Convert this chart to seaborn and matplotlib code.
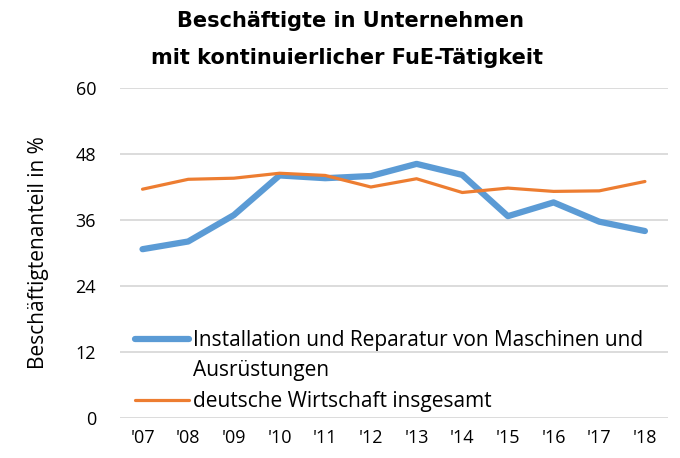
import pandas as pd
import matplotlib.pyplot as plt
import seaborn as sns
from matplotlib.lines import Line2D

# values
years = [2007, 2008, 2009, 2010, 2011, 2012, 2013, 2014, 2015, 2016, 2017, 2018]
year_labels = ["'07", "'08", "'09", "'10", "'11", "'12", "'13", "'14", "'15", "'16", "'17", "'18"]
installation = [30.7, 32.1, 36.9, 44.1, 43.6, 44.0, 46.2, 44.2, 36.7, 39.2, 35.7, 34.0]
gesamt = [41.6, 43.4, 43.6, 44.5, 44.1, 42.0, 43.5, 41.0, 41.8, 41.2, 41.3, 43.0]
y_ticks = [0, 12, 24, 36, 48, 60]

name_a = "Installation und Reparatur von Maschinen und"
name_b = "deutsche Wirtschaft insgesamt"

df = pd.DataFrame({
    "Jahr": years * 2,
    "Anteil": installation + gesamt,
    "Reihe": [name_a] * len(years) + [name_b] * len(years),
})

sns.set_style("white")
plt.rcParams["font.family"] = ["Open Sans", "DejaVu Sans"]
plt.rcParams["text.color"] = "black"
plt.rcParams["axes.labelcolor"] = "black"

fig = plt.figure(figsize=(6.8, 4.58), dpi=100)
ax = fig.add_axes([0.176, 0.087, 0.806, 0.721])

for y in y_ticks:
    ax.axhline(y, color="#d9d9d9", lw=1.3, zorder=0)

sns.lineplot(data=df[df["Reihe"] == name_a], x="Jahr", y="Anteil", color="#5b9bd5",
             lw=4.5, ax=ax, solid_capstyle="round", legend=False)
sns.lineplot(data=df[df["Reihe"] == name_b], x="Jahr", y="Anteil", color="#ed7d31",
             lw=2.3, ax=ax, solid_capstyle="round", legend=False)

ax.set_xlim(2006.5, 2018.5)
ax.set_ylim(0, 60)
ax.set_yticks(y_ticks)
ax.set_xticks(years)
ax.set_xticklabels(year_labels)
ax.tick_params(axis="both", length=0, labelsize=13, colors="black")
ax.tick_params(axis="y", pad=17)
ax.tick_params(axis="x", pad=8)
ax.set_xlabel("")
ax.set_ylabel("Beschäftigtenanteil in %", fontsize=15, labelpad=19)
for s in ax.spines.values():
    s.set_visible(False)

handles = [Line2D([], [], color="#5b9bd5", lw=4.5, solid_capstyle="round"),
           Line2D([], [], color="none"),
           Line2D([], [], color="#ed7d31", lw=2.3)]
ax.legend(handles, [name_a, "Ausrüstungen", name_b], loc="upper left",
          bbox_to_anchor=(0.013, 0.292), frameon=False, fontsize=15,
          handlelength=2.6, handletextpad=0.2, labelspacing=0.45, borderaxespad=0)

fig.text(0.515, 0.955, "Beschäftigte in Unternehmen", ha="center", va="center",
         fontsize=15, fontweight="bold", family="DejaVu Sans")
fig.text(0.511, 0.873, "mit kontinuierlicher FuE-Tätigkeit", ha="center", va="center",
         fontsize=15, fontweight="bold", family="DejaVu Sans")

fig.savefig("out.png", dpi=100)
